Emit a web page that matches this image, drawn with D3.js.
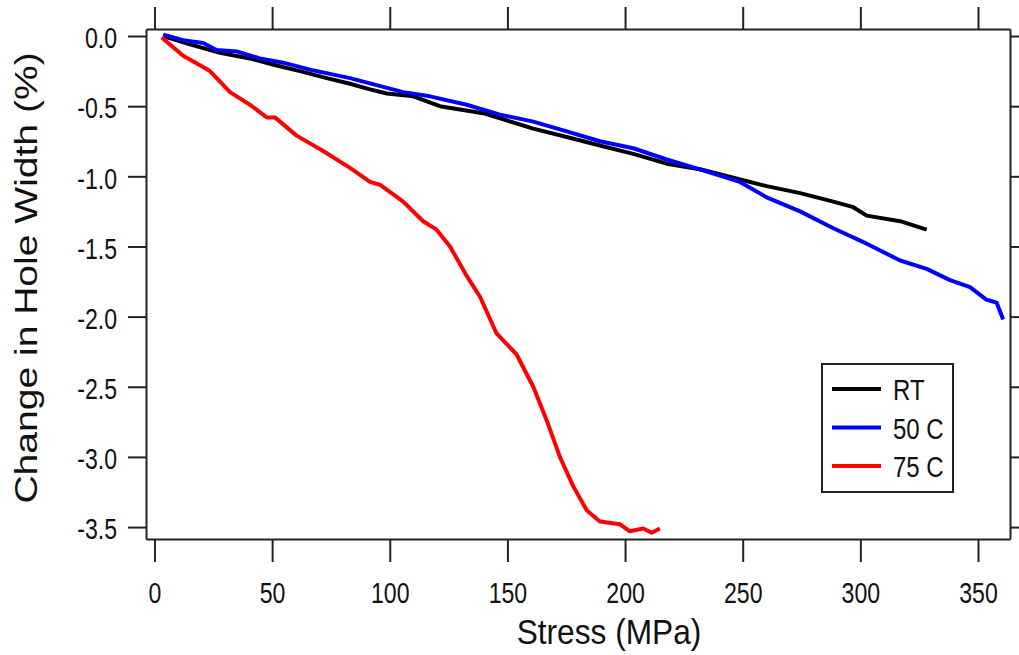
<!DOCTYPE html>
<html>
<head>
<meta charset="utf-8">
<script src="https://cdn.jsdelivr.net/npm/d3@7/dist/d3.min.js"></script>
<style>
  body { margin: 0; background: #fff; }
  text { font-family: "Liberation Sans", Arial, sans-serif; fill: #111; }
</style>
</head>
<body>
<svg width="1019" height="655"></svg>
<script>
// Hole width change vs. stress, three test temperatures

const xTicks = [0, 50, 100, 150, 200, 250, 300, 350];
const yTicks = [0, -0.5, -1, -1.5, -2, -2.5, -3, -3.5];

const seriesNames = ["RT", "50 C", "75 C"];
const seriesColors = ["#000000", "#0000ff", "#ff0000"];

// [stress MPa, change %]
const rtPoints = [
  [3.7, 0], [15.1, -0.06], [27.8, -0.12], [40.6, -0.16], [51.9, -0.21],
  [61.8, -0.25], [73.2, -0.3], [83.1, -0.34], [91.6, -0.38], [98.7, -0.41],
  [110, -0.43], [121.3, -0.5], [139.7, -0.55], [161, -0.66], [175.2, -0.72],
  [189.3, -0.78], [203.5, -0.84], [217.7, -0.91], [231.8, -0.95], [246, -1.01],
  [260.2, -1.07], [274.4, -1.12], [288.5, -1.18], [297, -1.22], [302.7, -1.28],
  [316.9, -1.32], [328.2, -1.38]
];

const c50Points = [
  [3.7, 0.01], [12.2, -0.03], [20.7, -0.05], [26.4, -0.1], [34.9, -0.11],
  [44.8, -0.16], [54.7, -0.19], [66.1, -0.24], [74.6, -0.27], [83.1, -0.3],
  [94.4, -0.35], [105.7, -0.4], [117.1, -0.43], [132.7, -0.49], [146.8, -0.56],
  [161, -0.61], [175.2, -0.68], [189.3, -0.75], [203.5, -0.8], [217.7, -0.88],
  [231.8, -0.95], [248.8, -1.04], [260.2, -1.15], [274.4, -1.25], [288.5, -1.37],
  [302.7, -1.48], [316.9, -1.6], [328.2, -1.66], [338.1, -1.74], [346.6, -1.79],
  [353.7, -1.88], [357.9, -1.9], [360.7, -2.02]
];

const c75Points = [
  [3.1, -0.01], [12.2, -0.14], [23.6, -0.25], [32.1, -0.4], [40.6, -0.49],
  [47.7, -0.58], [51.2, -0.58], [60.4, -0.71], [71.7, -0.82], [83.1, -0.94],
  [91.6, -1.04], [95.8, -1.06], [105.7, -1.18], [114.2, -1.32], [119.9, -1.38],
  [125.6, -1.5], [132.7, -1.71], [138.4, -1.86], [145.4, -2.12], [153.9, -2.27],
  [161, -2.5], [166.7, -2.74], [172.3, -3], [178, -3.21], [183.7, -3.38],
  [189.3, -3.46], [197.8, -3.48], [202.1, -3.53], [207.7, -3.51], [211.3, -3.54],
  [214.8, -3.51]
];

const allSeries = [rtPoints, c50Points, c75Points];

const plotLeft = 146, plotRight = 1010, plotTop = 29, plotBottom = 539;

const svg = d3.select("svg");

const x = d3.scaleLinear().domain([-3.6, 363.6]).range([plotLeft, plotRight]);
const y = d3.scaleLinear().domain([0.05, -3.585]).range([plotTop, plotBottom]);

const styleAxis = (g) => {
  g.select(".domain").attr("stroke", "#222").attr("stroke-width", 2);
  g.selectAll(".tick line").attr("stroke", "#222").attr("stroke-width", 2);
};

// bottom
svg.append("g")
  .attr("transform", `translate(0,${plotBottom})`)
  .call(d3.axisBottom(x).tickValues(xTicks).tickSize(23).tickSizeOuter(0).tickFormat(d3.format("d")))
  .call(styleAxis)
  .call((g) => g.selectAll("text")
    .attr("y", null).attr("dy", null)
    .attr("font-size", 30)
    .attr("transform", "translate(0,64) scale(0.77,1)"));

// top
svg.append("g")
  .attr("transform", `translate(0,${plotTop})`)
  .call(d3.axisTop(x).tickValues(xTicks).tickSize(22).tickSizeOuter(0).tickFormat(""))
  .call(styleAxis);

// left
svg.append("g")
  .attr("transform", `translate(${plotLeft},0)`)
  .call(d3.axisLeft(y).tickValues(yTicks).tickSize(18).tickSizeOuter(0).tickFormat((d) => d.toFixed(1)))
  .call(styleAxis)
  .call((g) => g.selectAll("text")
    .attr("x", null).attr("dy", "0.36em")
    .attr("font-size", 30)
    .attr("transform", "translate(-29,1) scale(0.77,1)"));

// right
svg.append("g")
  .attr("transform", `translate(${plotRight},0)`)
  .call(d3.axisRight(y).tickValues(yTicks).tickSize(22).tickSizeOuter(0).tickFormat(""))
  .call(styleAxis);

// axis titles
svg.append("text")
  .attr("transform", "translate(609,644) scale(0.88,1)")
  .attr("text-anchor", "middle")
  .attr("font-size", 36)
  .text("Stress (MPa)");

svg.append("text")
  .attr("transform", "translate(37,278) rotate(-90) scale(1.22,1)")
  .attr("text-anchor", "middle")
  .attr("font-size", 32)
  .text("Change in Hole Width (%)");

// curves
const line = d3.line().x((d) => x(d[0])).y((d) => y(d[1]));

svg.selectAll(".curve")
  .data(allSeries)
  .enter()
  .append("path")
  .attr("class", "curve")
  .attr("d", line)
  .attr("fill", "none")
  .attr("stroke", (d, i) => seriesColors[i])
  .attr("stroke-width", 4)
  .attr("stroke-linejoin", "round");

// legend
const legend = svg.append("g").attr("transform", "translate(822,364)");

legend.append("rect")
  .attr("width", 131)
  .attr("height", 128)
  .attr("fill", "#fff")
  .attr("stroke", "#222")
  .attr("stroke-width", 2);

const items = legend.selectAll(".item")
  .data(seriesNames)
  .enter()
  .append("g")
  .attr("transform", (d, i) => `translate(0,${25 + i * 38.5})`);

items.append("line")
  .attr("x1", 10).attr("x2", 59)
  .attr("stroke", (d, i) => seriesColors[i])
  .attr("stroke-width", 4);

items.append("text")
  .attr("transform", "translate(71,11) scale(0.8,1)")
  .attr("font-size", 30)
  .text((d) => d);
</script>
</body>
</html>
